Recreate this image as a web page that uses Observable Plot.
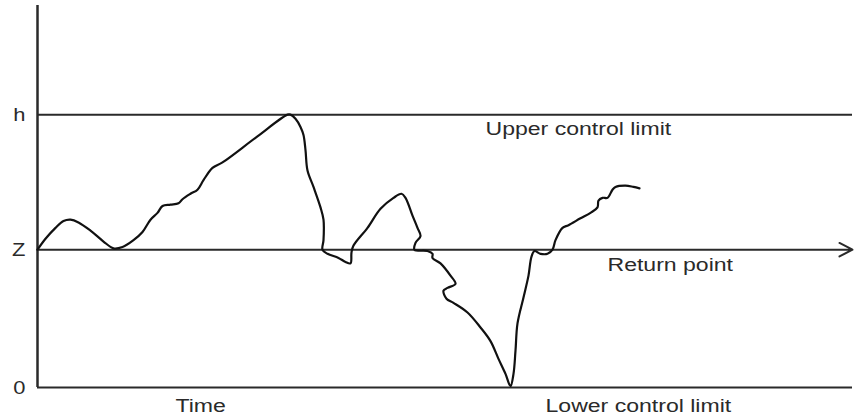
<!DOCTYPE html>
<html><head><meta charset="utf-8">
<script src="https://cdn.jsdelivr.net/npm/d3@7"></script>
<script src="https://cdn.jsdelivr.net/npm/@observablehq/plot@0.6"></script>
<style>html,body{margin:0;padding:0;background:#fff;} svg{display:block}</style>
</head><body><div id="chart"></div>
<script>
// CUSUM-style path: time steps and statistic values (0 = lower limit, Z = return point, h = upper limit)
const time = [0,8,18,26,33,41,53,66,76,85,96,105,113,120,125,133,141,145,153,160,166,175,185,218,250,253,258,263,266,268,270,276,283,286,286,285,290,301,308,313,314,316,330,343,356,364,368,375,380,383,378,377,390,395,395,403,413,418,410,406,409,416,430,443,453,461,468,473,476,478,480,486,491,494,497,503,510,515,518,525,531,543,553,560,561,565,570,575,578,588,596,602];
const value = [1.01,1.09,1.17,1.22,1.23,1.21,1.15,1.07,1.02,1.03,1.08,1.14,1.23,1.28,1.33,1.34,1.35,1.38,1.42,1.45,1.52,1.61,1.65,1.83,2.00,2.00,1.97,1.91,1.85,1.74,1.59,1.47,1.32,1.23,1.08,1.01,0.98,0.95,0.92,0.91,0.99,1.04,1.17,1.31,1.39,1.42,1.39,1.26,1.17,1.11,1.06,1.01,1.00,0.98,0.95,0.91,0.82,0.76,0.73,0.71,0.65,0.62,0.55,0.44,0.34,0.21,0.10,0.01,0.10,0.27,0.47,0.66,0.82,0.96,1.00,0.98,0.98,1.01,1.08,1.17,1.19,1.24,1.28,1.32,1.37,1.39,1.39,1.45,1.47,1.48,1.47,1.46];

const levelNames = ["0", "Z", "h"];
const levelValues = [0, 1.01, 2];
const timeEnd = 815;
const valueTop = 2.8;

const annotationText = ["Upper control limit", "Return point", "Time", "Lower control limit"];
const annotationLevel = ["h", "Z", "0", "0"];
const annotationTime = [448, 570, 138, 508];

const path = time.map((t, i) => ({t, v: value[i]}));
const levels = levelNames.map((n, i) => ({name: n, v: levelValues[i]}));
const levelOf = Object.fromEntries(levels.map(d => [d.name, d.v]));
const annotations = annotationText.map((s, i) => ({text: s, t: annotationTime[i], v: levelOf[annotationLevel[i]], lvl: annotationLevel[i]}));

const ink = "#2a2a2a";
const font = "Liberation Sans, Arial, Helvetica, sans-serif";

const chart = Plot.plot({
  width: 854,
  height: 416,
  marginLeft: 37,
  marginRight: 2,
  marginTop: 5,
  marginBottom: 29,
  style: {fontFamily: font, background: "#fff"},
  x: {domain: [0, timeEnd], axis: null},
  y: {domain: [0, valueTop], axis: null},
  marks: [
    Plot.ruleY(levels.filter(d => d.name !== "Z"), {y: "v", stroke: ink, strokeWidth: 2}),
    Plot.arrow([{x1: 0, x2: timeEnd, y: levelOf["Z"]}], {x1: "x1", x2: "x2", y1: "y", y2: "y", stroke: ink, strokeWidth: 2, headLength: 11, headAngle: 55}),
    Plot.ruleX([0], {y1: 0, y2: valueTop, stroke: ink, strokeWidth: 2.5}),
    Plot.line(path, {x: "t", y: "v", curve: "catmull-rom", stroke: "#111", strokeWidth: 2.2}),
    Plot.text(levels, {x: 0, y: "v", text: "name", textAnchor: "end", dx: -12, fontSize: 19, fill: ink, className: "lvl-label"}),
    Plot.text(annotations.filter(d => d.lvl === "h"), {x: "t", y: "v", text: "text", textAnchor: "start", lineAnchor: "top", dy: 8, fontSize: 18, fill: ink, className: "ann"}),
    Plot.text(annotations.filter(d => d.lvl === "Z"), {x: "t", y: "v", text: "text", textAnchor: "start", lineAnchor: "top", dy: 9, fontSize: 18, fill: ink, className: "ann"}),
    Plot.text(annotations.filter(d => d.lvl === "0"), {x: "t", y: "v", text: "text", textAnchor: "start", lineAnchor: "top", dy: 12, fontSize: 18, fill: ink, className: "ann"})
  ]
});
document.getElementById("chart").appendChild(chart);

// the original lettering is horizontally stretched
const stretch = 1.28;
chart.querySelectorAll(".ann text").forEach(el => {
  const w = el.getComputedTextLength();
  el.setAttribute("textLength", (w * stretch).toFixed(1));
  el.setAttribute("lengthAdjust", "spacingAndGlyphs");
});
chart.querySelectorAll(".lvl-label text").forEach(el => {
  const w = el.getComputedTextLength();
  el.setAttribute("textLength", (w * 1.15).toFixed(1));
  el.setAttribute("lengthAdjust", "spacingAndGlyphs");
});
</script>
</body></html>
